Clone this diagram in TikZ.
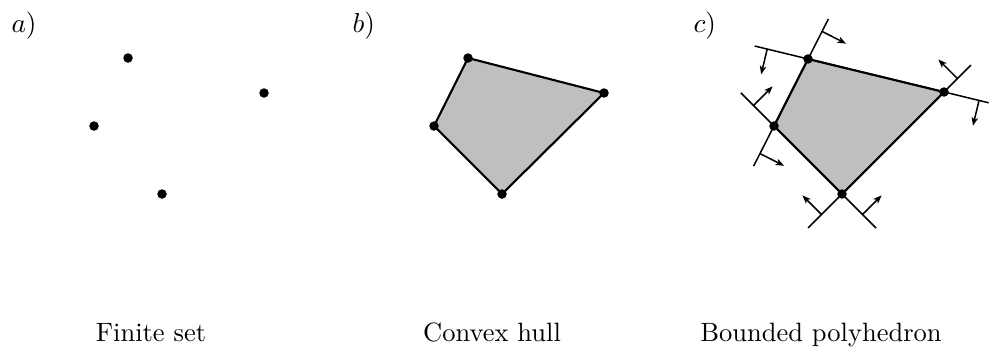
\documentclass[tikz,border=0pt]{standalone}
\usetikzlibrary{arrows.meta}
\begin{document}
\begin{tikzpicture}[x=0.4pt,y=-0.4pt,
  dot/.style={circle,fill=black,inner sep=0pt,minimum size=3.8pt},
  hull/.style={fill=black!25,draw=black,line width=0.85pt,line join=round},
  support/.style={draw=black,line width=0.6pt},
  normal/.style={draw=black,line width=0.6pt,-{Stealth[length=3.4pt,width=2.6pt,inset=0.9pt]}},
  lbl/.style={anchor=base west,inner sep=0pt,font=\fontsize{11}{13}\selectfont},
  captext/.style={anchor=base,inner sep=0pt,font=\fontsize{10.6}{12}\selectfont}]
\useasboundingbox (0,0) rectangle (990,347);
% panel a
\node[lbl] (la) at (11,32) {$a)$};
\node[dot] (a1) at (128,58) {};
\node[dot] (a2) at (264,93) {};
\node[dot] (a3) at (94,126) {};
\node[dot] (a4) at (162,194) {};
\node[captext] (ca) at (151,341) {Finite set};
% panel b
\node[lbl] (lb) at (352,32) {$b)$};
\coordinate (b1) at (468,58);
\coordinate (b2) at (604,93);
\coordinate (b3) at (434,126);
\coordinate (b4) at (502,194);
\path[hull] (b1) -- (b2) -- (b4) -- (b3) -- cycle;
\foreach \p in {b1,b2,b3,b4} \node[dot] at (\p) {};
\node[captext] (cb) at (492,341) {Convex hull};
% panel c
\node[lbl] (lc) at (693,32) {$c)$};
\coordinate (c1) at (808,59);
\coordinate (c2) at (944,92);
\coordinate (c3) at (774,126);
\coordinate (c4) at (842,194);
\path[hull] (c1) -- (c2) -- (c4) -- (c3) -- cycle;
% supporting lines
\coordinate (t1) at (754.6,46.0);
\coordinate (t2) at (988.7,102.8);
\coordinate (l1) at (828.4,18.9);
\coordinate (l2) at (753.6,166.1);
\coordinate (m1) at (740.8,92.8);
\coordinate (m2) at (876,228);
\coordinate (r1) at (970.9,65.1);
\coordinate (r2) at (808.1,227.9);
\draw[support] (t1) -- (t2);
\draw[support] (l1) -- (l2);
\draw[support] (m1) -- (m2);
\draw[support] (r1) -- (r2);
% normals
\coordinate (tb1) at (767.2,49.1); \coordinate (tn1) at (761.1,74.4);
\coordinate (tb2) at (979,100.5);  \coordinate (tn2) at (972.9,125.8);
\coordinate (lb1) at (822.0,31.4); \coordinate (ln1) at (846.1,43.6);
\coordinate (lb2) at (760,153.6);  \coordinate (ln2) at (784.1,165.8);
\coordinate (mb1) at (753.5,105.5); \coordinate (mn1) at (772.6,86.4);
\coordinate (mb2) at (862.5,214.5); \coordinate (mn2) at (881.6,195.4);
\coordinate (rb1) at (957.4,78.6); \coordinate (rn1) at (938.3,59.5);
\coordinate (rb2) at (821.5,214.5); \coordinate (rn2) at (802.4,195.4);
\foreach \b/\n in {tb1/tn1,tb2/tn2,lb1/ln1,lb2/ln2,mb1/mn1,mb2/mn2,rb1/rn1,rb2/rn2}
  \draw[normal] (\b) -- (\n);
\foreach \p in {c1,c2,c3,c4} \node[dot] at (\p) {};
\node[captext] (cc) at (821,341) {Bounded polyhedron};
\end{tikzpicture}
\end{document}
